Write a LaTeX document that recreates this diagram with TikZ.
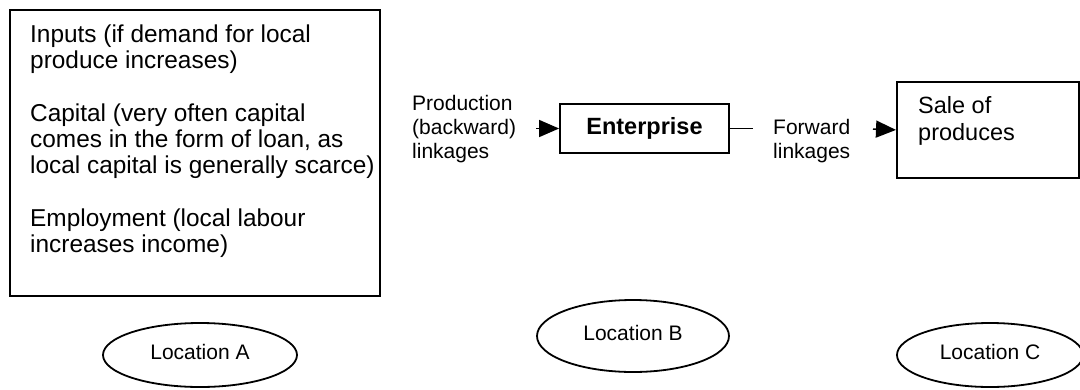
\documentclass[tikz,border=0pt]{standalone}
\usepackage{fontspec}
\setmainfont{Liberation Sans}
\usetikzlibrary{arrows.meta,shapes.geometric}
\begin{document}
\begin{tikzpicture}[x=1pt,y=-1pt,
  box/.style={draw, line width=1.8pt, rectangle, inner sep=0pt},
  body/.style={font=\fontsize{23.5}{27}\selectfont, inner sep=0pt, align=left, anchor=north west},
  note/.style={font=\fontsize{21}{24}\selectfont, inner sep=0pt, align=left, anchor=north west},
  loc/.style={draw, ellipse, line width=1.8pt, inner sep=0pt, text depth=7pt,
              font=\fontsize{21}{24}\selectfont},
  link/.style={line width=1.5pt},
  flow/.style={link, -{Triangle[length=20pt,width=17pt]}}]
\useasboundingbox (0,0) rectangle (1080,389);

% resources available at location A
\node[box, anchor=north west, minimum width=370pt, minimum height=286pt] (inputs) at (9,9) {};
\node[body, font=\fontsize{24.4}{26.25}\selectfont] (inputstext) at (30,24.5)
  {Inputs (if demand for local\\
   produce increases)\\[26.25pt]
   Capital (very often capital\\
   comes in the form of loan, as\\
   local capital is generally scarce)\\[26.25pt]
   Employment (local labour\\
   increases income)};

% the enterprise and its linkages
\node[note] (backlabel) at (412,95) {Production\\(backward)\\linkages};
\node[box, minimum width=169pt, minimum height=49pt,
      font=\fontsize{23.5}{27}\selectfont\bfseries] (ent) at (644.5,128.5) {Enterprise};
\coordinate (backstart) at (536,128.5);
\draw[flow] (backstart) -- (ent.west);

\coordinate (fwdend) at (753,128.5);
\draw[link] (ent.east) -- (fwdend);
\node[note] (fwdlabel) at (773,119) {Forward\\linkages};

% market at location C
\node[box, anchor=north west, minimum width=182pt, minimum height=96pt] (sale) at (896,81) {};
\node[body] (saletext) at (918,96) {Sale of\\produces};
\coordinate (fwdstart) at (873,129);
\draw[flow] (fwdstart) -- (sale.west);

% locations
\node[loc, minimum width=194pt, minimum height=64pt] (locA) at (200,355) {Location A};
\node[loc, minimum width=192pt, minimum height=72pt] (locB) at (633,336) {Location B};
\node[loc, minimum width=186pt, minimum height=64pt] (locC) at (990,355) {Location C};
\end{tikzpicture}
\end{document}
